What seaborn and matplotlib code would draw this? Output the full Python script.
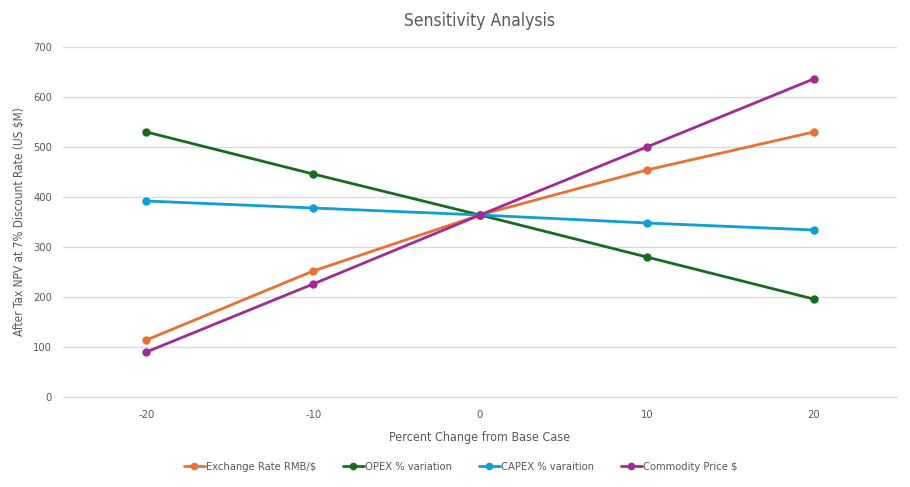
import pandas as pd
import seaborn as sns
import matplotlib.pyplot as plt

# Sensitivity data
changes = ["-20", "-10", "0", "10", "20"]
exchange_rate = [114, 252, 364, 454, 530]
opex = [530, 446, 364, 280, 196]
capex = [392, 378, 364, 348, 334]
commodity = [90, 226, 364, 500, 636]

series_names = ["Exchange Rate RMB/$", "OPEX % variation", "CAPEX % varaition", "Commodity Price $"]
colors = ["#E97132", "#196B24", "#0F9ED5", "#A02B93"]
yticks = [0, 100, 200, 300, 400, 500, 600, 700]

frames = []
for name, vals in zip(series_names, [exchange_rate, opex, capex, commodity]):
    frames.append(pd.DataFrame({"change": changes, "npv": vals, "series": name}))
df = pd.concat(frames, ignore_index=True)

sns.set_theme(style="white")
plt.rcParams["font.family"] = ["DejaVu Sans"]
plt.rcParams["font.stretch"] = "condensed"
text_color = "#595959"

fig = plt.figure(figsize=(9.1, 4.87), dpi=100)
ax = fig.add_axes([0.0692, 0.1848, 0.9165, 0.7187])

sns.pointplot(data=df, x="change", y="npv", hue="series", order=changes,
              hue_order=series_names, palette=colors, markers="o",
              linewidth=2.0, markersize=4.5, ax=ax, legend=False)

ax.set_xlim(-0.5, 4.5)
ax.set_ylim(0, 700)
ax.set_yticks(yticks)
ax.grid(axis="y", color="#D9D9D9", linewidth=0.9)
ax.axhline(0, color="#D9D9D9", linewidth=0.9, clip_on=False, zorder=0)
ax.set_axisbelow(True)
for s in ax.spines.values():
    s.set_visible(False)
ax.tick_params(axis="both", length=0, labelsize=8, colors=text_color)
ax.tick_params(axis="y", pad=8)
ax.tick_params(axis="x", pad=9)

ax.set_xlabel("Percent Change from Base Case", fontsize=9, color=text_color, labelpad=8)
ax.set_ylabel("After Tax NPV at 7% Discount Rate (US $M)", fontsize=8.5, color=text_color, labelpad=5)
ax.set_title("Sensitivity Analysis", fontsize=12.5, color=text_color, pad=15)

handles = [plt.Line2D([], [], color=c, linewidth=2.0, marker="o", markersize=4.5) for c in colors]
leg = fig.legend(handles, series_names, loc="center", bbox_to_anchor=(0.506, 0.041),
                 ncol=4, frameon=False, fontsize=8, handlelength=1.9,
                 handletextpad=0.1, columnspacing=2.4)
for t in leg.get_texts():
    t.set_color(text_color)

fig.savefig("out.png", dpi=100)
